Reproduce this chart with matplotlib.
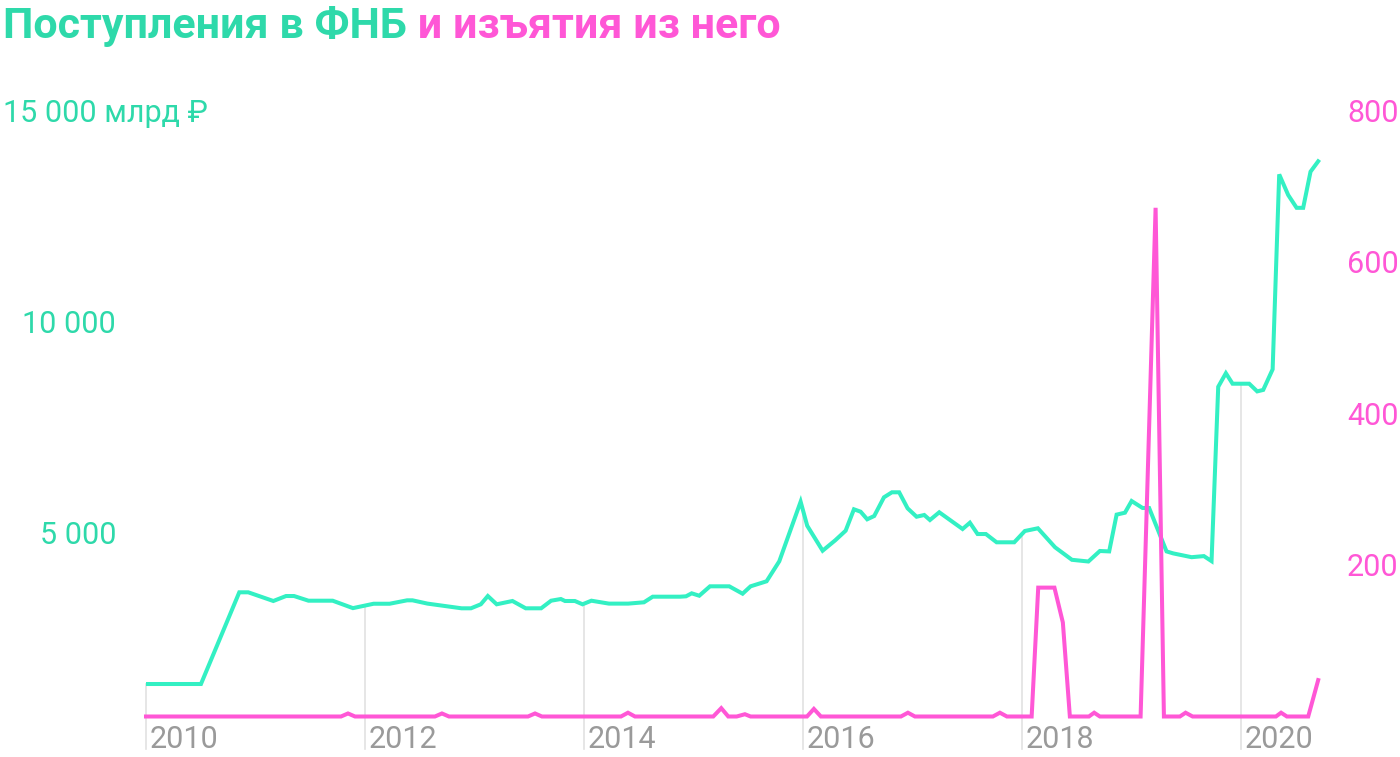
import matplotlib.pyplot as plt
import numpy as np
from matplotlib import transforms

plt.rcParams['font.family'] = ['Roboto', 'DejaVu Sans']

# FNB volume, bln rub (left axis), decimal year
green_t = [2010.006, 2010.502, 2010.852, 2010.934, 2011.163, 2011.279, 2011.352, 2011.484,
           2011.705, 2011.890, 2012.079, 2012.225, 2012.385, 2012.434, 2012.571, 2012.882,
           2012.968, 2013.058, 2013.122, 2013.203, 2013.347, 2013.468, 2013.609, 2013.700,
           2013.789, 2013.827, 2013.917, 2013.987, 2014.068, 2014.228, 2014.404, 2014.548,
           2014.628, 2014.878, 2014.932, 2014.984, 2015.053, 2015.151, 2015.327, 2015.449,
           2015.522, 2015.668, 2015.784, 2015.979, 2016.039, 2016.180, 2016.295, 2016.390,
           2016.466, 2016.527, 2016.587, 2016.651, 2016.740, 2016.813, 2016.879, 2016.956,
           2017.038, 2017.108, 2017.160, 2017.245, 2017.458, 2017.525, 2017.595, 2017.671,
           2017.769, 2017.930, 2018.027, 2018.146, 2018.303, 2018.457, 2018.607, 2018.712,
           2018.797, 2018.865, 2018.941, 2019.002, 2019.102, 2019.162, 2019.321, 2019.382,
           2019.550, 2019.662, 2019.732, 2019.793, 2019.863, 2019.924, 2020.076, 2020.149,
           2020.204, 2020.290, 2020.350, 2020.432, 2020.509, 2020.569, 2020.636, 2020.706]
green_v = [1398, 1398, 3571, 3571, 3365, 3483, 3483, 3372,
           3372, 3196, 3300, 3300, 3381, 3381, 3303, 3192,
           3192, 3287, 3483, 3287, 3365, 3192, 3192, 3372,
           3412, 3365, 3365, 3287, 3372, 3303, 3303, 3334,
           3467, 3467, 3476, 3547, 3490, 3713, 3713, 3538,
           3713, 3832, 4306, 5718, 5149, 4557, 4803, 5031,
           5538, 5481, 5301, 5379, 5822, 5941, 5941, 5561,
           5362, 5403, 5284, 5467, 5071, 5220, 4952, 4952,
           4756, 4756, 5024, 5088, 4637, 4341, 4301, 4550,
           4540, 5412, 5457, 5734, 5569, 5569, 4540, 4493,
           4403, 4429, 4310, 8441, 8763, 8514, 8514, 8332,
           8367, 8855, 13474, 12986, 12682, 12682, 13538, 13784]

# withdrawals, bln rub (right axis)
pink_t = [2010.0, 2011.781, 2011.845, 2011.909, 2012.639, 2012.703, 2012.767,
          2013.489, 2013.553, 2013.616, 2014.338, 2014.402, 2014.466,
          2015.181, 2015.254, 2015.318, 2015.395, 2015.470, 2015.522,
          2016.037, 2016.100, 2016.164, 2016.895, 2016.959, 2017.023,
          2017.735, 2017.799, 2017.863, 2018.089, 2018.149, 2018.297, 2018.374, 2018.438,
          2018.612, 2018.660, 2018.712, 2019.084, 2019.221, 2019.297,
          2019.443, 2019.495, 2019.559, 2020.320, 2020.367, 2020.420, 2020.615, 2020.706]
pink_v = [0, 0, 4, 0, 0, 4, 0,
          0, 4, 0, 0, 5, 0,
          0, 11, 0, 0, 3, 0,
          0, 10, 0, 0, 5, 0,
          0, 5, 0, 0, 170, 170, 124, 0,
          0, 5, 0, 0, 671, 0,
          0, 5, 0, 0, 5, 0, 0, 48]

years = [2010, 2012, 2014, 2016, 2018, 2020]
left_ticks = [5000, 10000]
left_labels = ['5 000', '10 000']
right_ticks = [200, 400, 600, 800]

GREEN = '#33f0c3'
GREEN_TXT = '#2ed9aa'
PINK = '#ff57d6'
GREY = '#9a9a9a'

fig = plt.figure(figsize=(14, 7.57), dpi=100)
ax = fig.add_axes([146 / 1400, 1 - 716.5 / 757, 1177 / 1400, 606.5 / 757])
ax2 = ax.twinx()

ax.set_xlim(2010, 2020.75)
ax.set_ylim(628, 15000)
ax2.set_ylim(0, 800)

for a in (ax, ax2):
    for s in a.spines.values():
        s.set_visible(False)
    a.set_xticks([])

ax.set_yticks(left_ticks)
ax.set_yticklabels(left_labels)
ax.tick_params(axis='y', length=0, pad=21.6, labelsize=22, labelcolor=GREEN_TXT)
ax2.set_yticks(right_ticks)
ax2.set_yticklabels([str(v) for v in right_ticks])
ax2.tick_params(axis='y', length=0, pad=17.3, labelsize=22, labelcolor=PINK)

# drop lines from the green line down to the year labels
ylo, yhi = ax.get_ylim()
bottom = ylo - 0.0536 * (yhi - ylo)
for yr in years:
    top = np.interp(yr, green_t, green_v)
    ax.plot([yr, yr], [bottom, top], color='#e2e2e2', lw=1.2, clip_on=False, zorder=1)

ax.plot(green_t, green_v, color=GREEN, lw=2.9, solid_joinstyle='miter', zorder=3)
ax2.plot(pink_t, pink_v, color=PINK, lw=2.9, solid_joinstyle='miter', clip_on=False, zorder=3)

trans = transforms.offset_copy(
    transforms.blended_transform_factory(ax.transData, ax.transAxes), fig=fig, x=4, y=0, units='dots')
for yr in years:
    ax.text(yr, -0.052, str(yr), transform=trans, ha='left', va='baseline',
            fontsize=22, color=GREY)

# top left-axis label
ax.text(3 / 1400, 15000, '15 000 млрд ₽', fontsize=22, color=GREEN_TXT,
        ha='left', va='center_baseline',
        transform=transforms.blended_transform_factory(fig.transFigure, ax.transData))

t1 = fig.text(3 / 1400, 1 - 38 / 757, 'Поступления в ФНБ', fontsize=31, fontweight='bold',
              color=GREEN_TXT, ha='left', va='baseline')
fig.canvas.draw()
bb = t1.get_window_extent()
fig.text(bb.x1 / fig.bbox.width, 1 - 38 / 757, ' и изъятия из него', fontsize=31,
         fontweight='bold', color=PINK, ha='left', va='baseline')

fig.savefig('out.png', dpi=100)
